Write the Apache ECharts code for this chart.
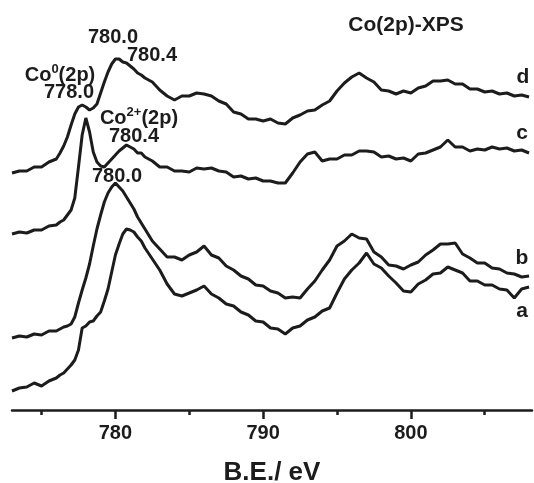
<!DOCTYPE html>
<html>
<head>
<meta charset="utf-8">
<script src="https://cdn.jsdelivr.net/npm/echarts@6/dist/echarts.min.js"></script>
<style>html,body{margin:0;padding:0;background:#fff}#c{width:534px;height:483px}</style>
</head>
<body>
<div id="c"></div>
<script>
// Binding energy (eV)
const energies = [773,773.5,774,774.5,775,775.5,776,
  776.25,776.5,776.75,777,777.25,777.5,777.75,778,778.25,778.5,778.75,779,779.25,779.5,779.75,780,780.25,780.5,780.75,781,781.25,781.5,781.75,782,
  782.5,783,783.5,784,784.5,785,785.5,786,786.5,787,787.5,788,788.5,789,789.5,790,790.5,791,791.5,792,792.5,793,793.5,794,794.5,795,795.5,796,796.5,797,797.5,798,798.5,799,799.5,800,800.5,801,801.5,802,802.5,803,803.5,804,804.5,805,805.5,806,806.5,807,807.5,808];
// Intensities (arbitrary units, stacked offsets as in the figure)
const seriesA = [19,22,23,27,24,29,32,
  35,37,41,45,50,60,82,84,88,89,94,98,109,121,138,155,166,176,181,180,178,173,169,162,
  151,140,126,116,114,117,120,124,116,112,106,104,98,95,89,88,82,81,76,82,84,90,93,99,102,117,131,140,147,157,146,142,134,127,119,118,126,130,136,137,143,140,137,129,129,125,125,121,120,112,121,123];
const seriesB = [72,74,73,76,75,79,79,
  81,83,84,86,93,107,120,132,146,164,181,195,208,217,223,227,223,219,213,207,201,193,187,181,
  169,161,153,153,150,155,158,164,155,152,144,140,134,131,125,124,119,117,112,113,112,121,129,140,150,164,169,176,172,171,158,153,145,144,141,145,148,155,160,166,166,167,156,152,147,147,142,141,137,136,133,134];
const seriesC = [176,178,177,180,180,184,185,
  188,190,195,200,212,243,275,292,278,258,248,244,243,247,251,255,259,262,265,263,261,257,257,253,
  249,243,243,239,239,238,242,241,242,239,238,233,234,231,232,229,229,227,227,237,248,256,258,249,251,251,255,255,259,259,258,253,254,251,252,249,256,257,260,263,270,263,263,259,261,260,263,261,262,259,260,257];
const seriesD = [237,239,239,243,243,248,251,
  257,264,273,285,296,303,305,303,300,302,306,317,328,338,346,351,351,348,347,344,341,337,335,332,
  328,320,314,310,314,314,317,316,314,309,306,298,296,291,291,289,291,287,286,292,295,299,300,305,309,319,327,333,337,332,328,320,319,316,319,317,322,324,329,329,330,326,326,321,321,318,319,316,317,314,315,313];

const tickMajor = [780, 790, 800];
const tickMinor = [775, 785, 795, 805];
const curveNames = ['a', 'b', 'c', 'd'];

const INK = '#1c1c1c';
const FONT = 'Arial, "Liberation Sans", sans-serif';

function pairs(ys) { return energies.map((e, i) => [e, ys[i]]); }

const chart = echarts.init(document.getElementById('c'), null, {renderer: 'canvas'});
const baseAxis = {
  type: 'value', min: 773, max: 808.2, position: 'bottom',
  splitLine: {show: false}
};
function txt(t, x, y, size) {
  return {type: 'text', x: x, y: y, style: {text: t, font: 'bold ' + size + 'px ' + FONT, fill: INK, textAlign: 'center', textVerticalAlign: 'middle'}};
}
function supTxt(base, sup, tail, x, y) {
  return {type: 'text', x: x, y: y, style: {text: '{n|' + base + '}{s|' + sup + '}{n|' + tail + '}', fill: INK, textAlign: 'center', textVerticalAlign: 'middle',
    rich: {n: {font: 'bold 20px ' + FONT, fill: INK, lineHeight: 22, verticalAlign: 'bottom'}, s: {font: 'bold 13px ' + FONT, fill: INK, verticalAlign: 'top', lineHeight: 22}}}};
}
chart.setOption({
  backgroundColor: '#fff',
  animation: false,
  grid: {left: 12, right: 2, top: 0, bottom: 73, containLabel: false, outerBoundsMode: 'none'},
  xAxis: [
    Object.assign({}, baseAxis, {
      name: 'B.E./ eV', nameLocation: 'middle', nameGap: 50,
      nameTextStyle: {fontFamily: FONT, fontWeight: 'bold', fontSize: 26, color: INK},
      axisLine: {show: true, lineStyle: {color: INK, width: 2.5}},
      axisTick: {show: true, customValues: tickMajor, length: 9, lineStyle: {color: INK, width: 2.5}},
      axisLabel: {show: true, customValues: tickMajor, margin: 13, fontFamily: FONT, fontWeight: 'bold', fontSize: 20, color: INK}
    }),
    Object.assign({}, baseAxis, {
      axisLine: {show: false},
      axisTick: {show: true, customValues: tickMinor, length: 5, lineStyle: {color: INK, width: 2.5}},
      axisLabel: {show: false}
    })
  ],
  yAxis: {type: 'value', min: 0, max: 410, show: false},
  series: [seriesA, seriesB, seriesC, seriesD].map((ys, i) => ({
    name: curveNames[i], type: 'line', data: pairs(ys), showSymbol: false, symbol: 'none',
    lineStyle: {color: INK, width: 3}, xAxisIndex: 0, z: 3
  })),
  graphic: [
    txt('Co(2p)-XPS', 406, 25, 21),
    txt('780.0', 113, 37, 20),
    txt('780.4', 152, 55, 20),
    supTxt('Co', '0', '(2p)', 60, 74),
    txt('778.0', 69, 92, 20),
    supTxt('Co', '2+', '(2p)', 139, 117),
    txt('780.4', 134, 136, 20),
    txt('780.0', 117, 176, 20),
    txt('d', 523, 77, 21),
    txt('c', 522, 133, 21),
    txt('b', 522, 258, 21),
    txt('a', 522, 311, 21)
  ]
});
</script>
</body>
</html>
